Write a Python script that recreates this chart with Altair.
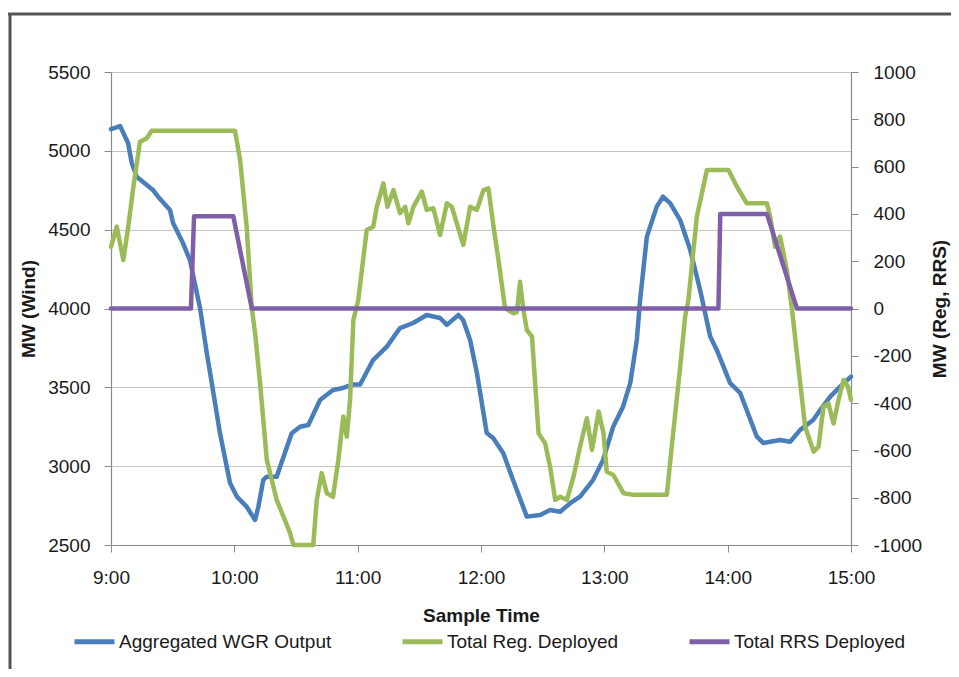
import altair as alt
import pandas as pd

# ---- data (minutes after 9:00) ----
series_names = ["Aggregated WGR Output", "Total Reg. Deployed", "Total RRS Deployed"]
series_colors = ["#4a7ebb", "#9bbb59", "#7f60a8"]
x_ticks = [0, 60, 120, 180, 240, 300, 360]
wind_ticks = [2500, 3000, 3500, 4000, 4500, 5000, 5500]
reg_ticks = [-1000, -800, -600, -400, -200, 0, 200, 400, 600, 800, 1000]

wind_t = [0, 4.4, 8.3, 10.1, 12.5, 20.4, 22.9, 28.7, 30.2, 35.0, 38.4, 43.3, 46.6, 49.6, 53.0,
          57.9, 61.2, 66.0, 70.1, 71.7, 74.1, 75.8, 80.6, 87.9, 92.0, 96.0, 101.7, 108.0, 112.9,
          117.8, 121.2, 127.5, 134.2, 140.6, 147.0, 153.6, 160.1, 163.4, 169.0, 171.3, 174.7,
          178.0, 182.8, 185.9, 190.8, 195.6, 202.3, 208.8, 213.6, 218.5, 223.4, 228.2, 234.5,
          239.4, 244.3, 249.1, 252.6, 255.8, 257.4, 260.7, 265.5, 268.5, 272.0, 276.9, 281.8,
          286.6, 291.5, 294.7, 301.2, 306.1, 314.2, 317.3, 325.5, 330.4, 335.3, 341.6, 345.0,
          349.9, 354.7, 360]
wind_mw = [5137, 5157, 5050, 4923, 4836, 4752, 4709, 4625, 4542, 4415, 4307, 4003, 3718, 3483, 3210,
           2893, 2807, 2743, 2659, 2743, 2913, 2933, 2933, 3209, 3250, 3261, 3420, 3483, 3496,
           3518, 3518, 3673, 3758, 3876, 3908, 3959, 3940, 3896, 3959, 3927, 3800,
           3591, 3210, 3179, 3083, 2912, 2680, 2690, 2722, 2711, 2765, 2807, 2912,
           3039, 3250, 3377, 3527, 3800, 4054, 4456, 4646, 4709, 4668, 4561, 4371,
           4117, 3822, 3737, 3527, 3464, 3187, 3147, 3166, 3155, 3230, 3293, 3356,
           3441, 3504, 3568]

reg_t = [0, 2.8, 6.0, 8.4, 10.9, 14.1, 17.4, 19.8, 60.3, 62.8, 66.0, 68.5, 70.1, 72.5, 75.8,
         80.6, 87.1, 88.7, 98.4, 100.1, 102.5, 105.0, 108.0, 110.6, 113.0, 114.7, 116.3, 117.9,
         120.3, 124.4, 127.6, 129.3, 132.5, 134.5, 137.4, 140.6, 143.1, 144.7, 147.1, 151.2,
         153.6, 156.8, 160.1, 163.4, 165.8, 171.4, 174.7, 178.0, 181.2, 183.6, 186.1, 188.5,
         191.7, 195.6, 197.5, 199.0, 200.5, 202.3, 204.8, 208.0, 211.2, 213.6, 216.1, 218.5,
         221.8, 225.0, 228.2, 231.5, 234.0, 237.2, 239.6, 241.2, 244.4, 249.3, 254.2, 270.4,
         272.8, 276.9, 279.3, 280.9, 285.0, 289.9, 300.4, 304.5, 309.3, 319.1, 320.7, 323.1,
         325.5, 328.8, 331.2, 335.3, 337.7, 341.8, 344.2, 346.6, 349.0, 351.5, 353.9, 356.4,
         358.5, 360]
reg_mw = [261, 346, 205, 346, 515, 705, 720, 752, 752, 628, 346, 2, -104, -315, -640,
          -809, -949, -1000, -1000, -809, -696, -781, -796, -640, -457, -542, -387, -49,
          36, 332, 346, 430, 529, 430, 501, 403, 430, 360, 430, 494,
          417, 424, 311, 445, 430, 269, 430, 417, 501, 508, 346, 205,
          2, -20, -15, 113, 2, -91, -119, -528, -570, -669, -809, -796,
          -809, -711, -584, -464, -598, -436, -528, -690, -704, -781, -788, -788,
          -584, -246, -35, 36, 388, 586, 586, 515, 445, 445, 388, 261,
          304, 163, 2, -316, -500, -605, -584, -415, -401, -486, -387, -302,
          -330, -387]

rrs_t = [0, 38.9, 40.4, 59.5, 68.5, 295.5, 296.4, 319.1, 333.7, 360]
rrs_mw = [0, 0, 390, 390, 0, 0, 400, 400, 0, 0]

wind_df = pd.DataFrame({"t": wind_t, "mw": wind_mw, "series": series_names[0]})
reg_df = pd.DataFrame({"t": reg_t, "mw": reg_mw, "series": series_names[1]})
rrs_df = pd.DataFrame({"t": rrs_t, "mw": rrs_mw, "series": series_names[2]})
frame_df = pd.DataFrame({"edge": ["frame"]})

FONT = "Liberation Sans"
LW = 4.5

x_enc = alt.X(
    "t:Q",
    scale=alt.Scale(domain=[0, 360], nice=False, zero=False),
    axis=alt.Axis(values=x_ticks, labelExpr="(9 + datum.value/60) + ':00'",
                  title="Sample Time", labelFlush=False, labelOverlap=False,
                  grid=False, labelPadding=16, titlePadding=19),
)

color_enc = alt.Color(
    "series:N",
    scale=alt.Scale(domain=series_names, range=series_colors),
    legend=alt.Legend(title=None, orient="none", legendX=-39, legendY=547,
                      direction="horizontal", columns=3, symbolType="stroke",
                      symbolSize=1600, symbolStrokeWidth=5, labelFontSize=19,
                      labelFont=FONT, labelColor="#1a1a1a", columnPadding=60,
                      labelOffset=2, labelLimit=400),
)

line_kw = dict(strokeWidth=LW, strokeJoin="round", strokeCap="round")

wind_layer = alt.Chart(wind_df).mark_line(**line_kw).encode(
    x=x_enc,
    y=alt.Y("mw:Q", scale=alt.Scale(domain=[2500, 5500], nice=False, zero=False),
            axis=alt.Axis(orient="left", values=wind_ticks, grid=True, gridColor="#c4c4c4",
                          labelExpr="datum.value + ''",
                          title="MW (Wind)", labelPadding=14, titlePadding=9)),
    color=color_enc,
)

reg_axis = alt.Axis(orient="right", values=reg_ticks, grid=False, title="MW (Reg, RRS)",
                    labelExpr="datum.value + ''", titleAngle=270, titleBaseline="top",
                    labelPadding=15, titlePadding=9)
reg_scale = alt.Scale(domain=[-1000, 1000], nice=False, zero=False)

reg_layer = alt.Chart(reg_df).mark_line(**line_kw).encode(
    x=x_enc,
    y=alt.Y("mw:Q", scale=reg_scale, axis=reg_axis),
    color=color_enc,
)
rrs_layer = alt.Chart(rrs_df).mark_line(**line_kw).encode(
    x=x_enc,
    y=alt.Y("mw:Q", scale=reg_scale, axis=reg_axis),
    color=color_enc,
)

frame_top = alt.Chart(frame_df).mark_rule(color="#555555", strokeWidth=3).encode(
    x=alt.value(-103), x2=alt.value(850), y=alt.value(-58))
frame_left = alt.Chart(frame_df).mark_rule(color="#555555", strokeWidth=3).encode(
    x=alt.value(-101), y=alt.value(-58), y2=alt.value(600))

chart = alt.layer(
    wind_layer,
    alt.layer(reg_layer, rrs_layer),
    frame_top,
    frame_left,
).resolve_scale(y="independent", color="shared").properties(
    width=740, height=473,
    autosize=alt.AutoSizeParams(type="none"),
    padding={"left": 103, "top": 64, "right": 100, "bottom": 124},
    background="white",
).configure_view(stroke="transparent").configure_axis(
    labelFont=FONT, labelFontSize=19, labelColor="#1a1a1a",
    titleFont=FONT, titleFontSize=19, titleFontWeight="bold", titleColor="#1a1a1a",
    tickColor="#8a8a8a", domainColor="#8a8a8a", tickSize=7, domainWidth=1.2,
)

chart.save("out.html", embed_options={"renderer": "svg", "actions": False})
